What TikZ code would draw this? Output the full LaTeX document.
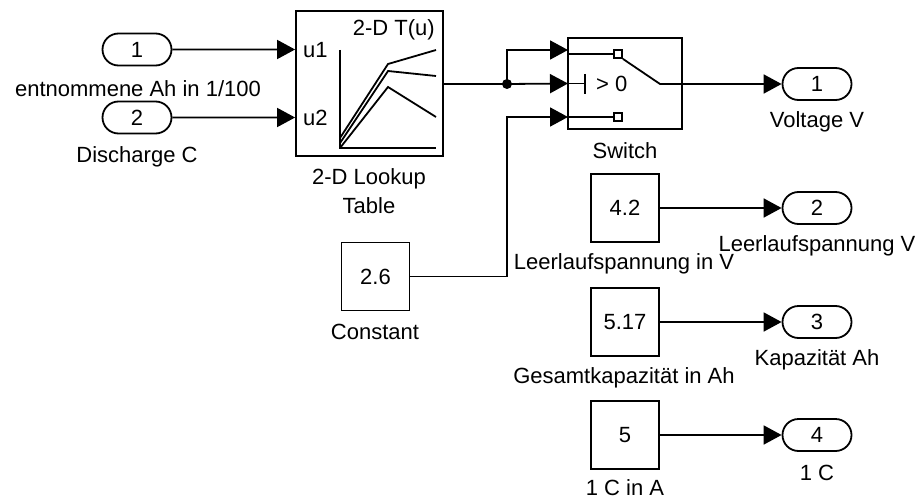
\documentclass[tikz,border=0pt]{standalone}
\usepackage{fontspec}
\setmainfont{Liberation Sans}
\usetikzlibrary{arrows,arrows.meta,shapes,positioning}
\tikzset{
    basic/.style = {draw, rectangle, line width=1.8pt, inner sep=0pt},
    gain/.style = {basic, minimum width=68pt, minimum height=68pt},
    port/.style = {draw, rounded rectangle, line width=1.8pt, inner sep=0pt, minimum width=69pt, minimum height=32pt},
    label/.style = {inner sep=0pt, align=center, yshift=-1.5pt},
    wire/.style = {draw, line width=1.8pt, -{Triangle[length=18pt,width=19pt]}},
    plain/.style = {draw, line width=1.8pt},
    contact/.style = {draw, rectangle, line width=1.8pt, fill=white, inner sep=0pt, minimum size=8pt}
}
\begin{document}
\begin{tikzpicture}[x=1pt,y=-1pt,font=\fontsize{22pt}{26pt}\selectfont]
	\useasboundingbox (0,0) rectangle (917,500);
	% inputs
	\node[port] (in1) at (137,49.5) {1};
	\node[port] (in2) at (137,117.5) {2};
	\node[label] (in1text) at (138,87) {entnommene Ah in 1/100};
	\node[label] (in2text) at (137,155) {Discharge C};
	% lookup table
	\node[basic, minimum width=147pt, minimum height=145pt] (lookup) at (369.5,83.5) {};
	\node[label, anchor=west] (u1) at (303,49) {u1};
	\node[label, anchor=west] (u2) at (303,116) {u2};
	\node[label, anchor=east] (tu) at (435,28) {2-D T(u)};
	\node[label] (lookuptext) at (369,190) {2-D Lookup\\[3pt]Table};
	\draw[plain] (340,50) -- (340,148) -- (436,148);
	\draw[plain] (340,138) -- (388,64) -- (436,50);
	\draw[plain] (340,143) -- (388,71) -- (436,76);
	\draw[plain] (340,148) -- (388,87) -- (436,117);
	% switch
	\node[basic, minimum width=114pt, minimum height=91pt] (switch) at (625,83.5) {};
	\node[label] (switchtext) at (625,149) {Switch};
	\node[contact] (c1) at (618,54) {};
	\node[contact] (c3) at (618,117) {};
	\coordinate (s1) at (568,50);
	\coordinate (s2) at (568,83.5);
	\coordinate (s3) at (568,117);
	\coordinate (pivot) at (660,84);
	\draw[plain] (s1 |- c1) -- (c1.west);
	\draw[plain] (s3) -- (c3.west);
	\draw[plain] (c1.south east) -- (pivot) -- (switch.east |- pivot);
	\draw[plain] (s2) -- (585,83.5);
	\draw[plain] (585,74) -- (585,94);
	\node[label, anchor=west] (gt) at (596,82) {> 0};
	% constant
	\node[gain] (const) at (375.5,276.5) {2.6};
	\node[label] (consttext) at (375,330) {Constant};
	% outputs
	\node[port] (out1) at (817,84) {1};
	\node[label] (out1text) at (817,120) {Voltage V};
	\node[gain] (val2) at (625,208) {4.2};
	\node[port] (out2) at (817,208) {2};
	\node[label] (val2text) at (624,262) {Leerlaufspannung in V};
	\node[label] (out2text) at (817,244) {Leerlaufspannung V};
	\node[gain] (val3) at (625,322) {5.17};
	\node[port] (out3) at (817,322) {3};
	\node[label] (val3text) at (624,376) {Gesamtkapazität in Ah};
	\node[label] (out3text) at (817,358) {Kapazität Ah};
	\node[gain] (val4) at (625,435) {5};
	\node[port] (out4) at (817,435) {4};
	\node[label] (val4text) at (625,486.5) {1 C in A};
	\node[label] (out4text) at (817,471) {1 C};
	% wires
	\coordinate (split) at (507,84);
	\draw[wire] (in1) -- (in1 -| lookup.west);
	\draw[wire] (in2) -- (in2 -| lookup.west);
	\draw[plain] (lookup.east |- split) -- (split);
	\draw[wire] (split) -- (s2);
	\draw[wire] (split) |- (s1);
	\fill (split) circle (5pt);
	\draw[wire] (const) -| (507,200) |- (s3);
	\draw[wire] (switch.east |- out1) -- (out1);
	\draw[wire] (val2) -- (out2);
	\draw[wire] (val3) -- (out3);
	\draw[wire] (val4) -- (out4);
\end{tikzpicture}
\end{document}
